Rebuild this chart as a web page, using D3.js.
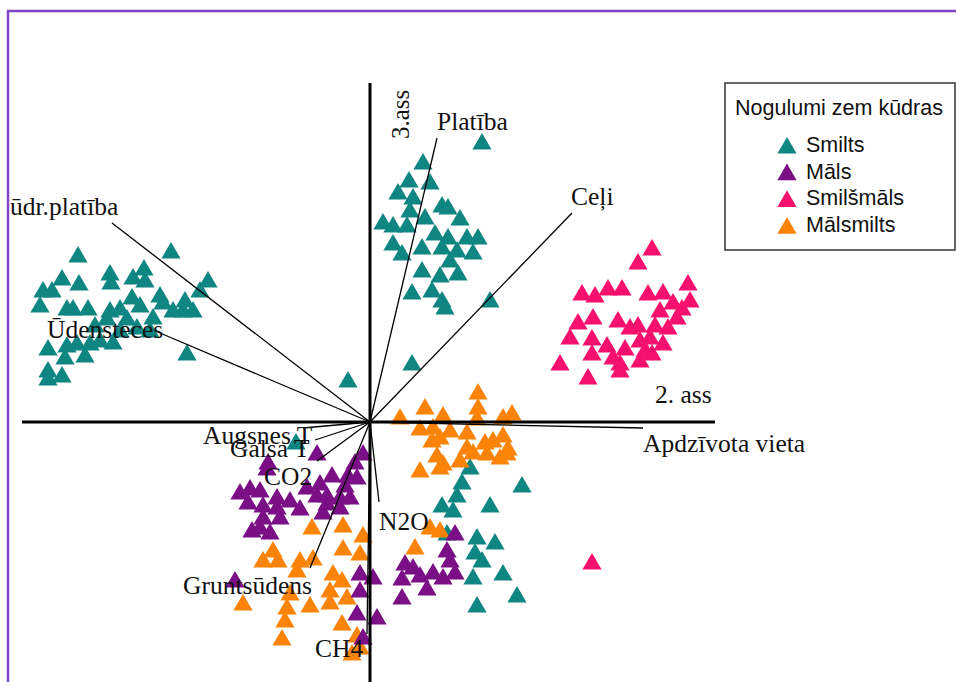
<!DOCTYPE html>
<html><head><meta charset="utf-8">
<script src="https://cdn.jsdelivr.net/npm/d3@7"></script>
<style>html,body{margin:0;padding:0;background:#fff;overflow:hidden}</style>
</head><body>
<script>
// ---- DATA ----
const categories = ["Smilts", "Māls", "Smilšmāls", "Mālsmilts"];
const legendTitle = "Nogulumi zem kūdras";

const smilts = [
  [-2.92,1.67],[-1.99,1.71],[-3.08,1.44],[-2.91,1.39],[-2.60,1.49],[-2.59,1.40],[-2.37,1.45],[-2.26,1.54],
  [-2.25,1.42],[-1.62,1.42],[-1.70,1.32],[-3.27,1.32],[-3.18,1.32],[-3.30,1.17],[-3.03,1.14],[-2.82,1.14],
  [-2.97,1.14],[-2.60,1.12],[-2.50,1.14],[-2.38,1.25],[-2.30,1.17],[-2.07,1.20],[-1.97,1.12],[-1.87,1.12],
  [-1.77,1.12],[-2.17,1.05],[-2.63,1.04],[-2.43,1.04],[-2.33,0.95],[-3.22,0.74],[-3.03,0.77],[-2.93,0.79],
  [-2.80,0.79],[-2.70,0.82],[-2.57,0.80],[-3.05,0.65],[-2.85,0.67],[-1.83,0.69],[-3.22,0.52],[-3.08,0.47],
  [-3.22,0.44],[-2.75,0.97],[-2.50,0.92],[-2.20,0.92],[-2.10,1.27],[-1.85,1.22],
  [-0.22,0.42],[-0.74,-0.20],
  [1.12,2.80],[0.53,2.60],[0.39,2.42],[0.60,2.40],[0.28,2.30],[0.43,2.25],[0.72,2.17],[0.78,2.15],
  [0.40,2.12],[0.55,2.05],[0.90,2.04],[0.13,2.00],[0.23,1.97],[0.37,1.97],[0.65,1.89],[0.78,1.85],
  [0.97,1.85],[1.08,1.85],[0.23,1.79],[0.52,1.75],[0.72,1.75],[0.87,1.72],[1.03,1.70],[0.32,1.69],
  [0.80,1.62],[0.52,1.52],[0.70,1.47],[0.88,1.49],[0.42,1.30],[0.62,1.32],[0.72,1.22],[0.75,1.15],
  [1.20,1.22],[0.42,0.59],
  [1.00,-0.45],[0.92,-0.60],[0.87,-0.73],[1.52,-0.63],[0.72,-0.83],[0.83,-0.88],[1.20,-0.83],[1.07,-1.15],
  [1.25,-1.20],[1.05,-1.30],[1.12,-1.38],[1.33,-1.51],[1.03,-1.55],[1.47,-1.73],[1.07,-1.83],[0.77,-1.11]
];

const mals = [
  [-0.53,-0.31],[-0.07,-0.31],[-1.02,-0.40],[-0.38,-0.53],[-0.22,-0.53],[-0.13,-0.55],[-1.30,-0.70],[-1.20,-0.66],
  [-1.10,-0.68],[-0.63,-0.65],[-0.50,-0.61],[-0.53,-0.73],[-0.43,-0.73],[-0.30,-0.75],[-0.20,-0.75],[-0.93,-0.75],
  [-0.80,-0.78],[-1.22,-0.80],[-1.07,-0.83],[-0.93,-0.85],[-0.70,-0.86],[-0.43,-0.81],[-0.30,-0.85],[-1.07,-0.95],
  [-0.90,-0.95],[-1.10,-1.05],[-1.18,-1.08],[-1.00,-1.10],[-0.47,-0.90],[-1.03,-0.46],[-1.35,-1.58],[-0.15,-0.40],
  [-0.25,-0.63],
  [0.85,-1.11],[0.77,-1.28],[0.80,-1.38],[0.35,-1.41],[0.43,-1.45],[0.63,-1.50],[0.73,-1.55],[0.32,-1.56],
  [0.57,-1.66],[0.32,-1.75],[0.03,-1.55],[-0.10,-1.51],[-0.10,-1.68],[-0.13,-1.91],[0.07,-1.95],[-0.07,-2.15],
  [0.50,-1.53],[0.85,-1.50]
];

const smilsmals = [
  [2.82,1.74],[2.68,1.60],[2.12,1.29],[2.25,1.27],[2.38,1.34],[2.52,1.34],[2.78,1.29],[2.93,1.30],
  [3.18,1.39],[3.03,1.20],[3.20,1.22],[3.12,1.14],[2.23,1.05],[2.08,1.00],[2.48,1.02],[2.60,0.95],
  [2.68,0.97],[2.98,0.95],[3.07,1.05],[2.00,0.85],[2.22,0.84],[2.37,0.77],[2.55,0.74],[2.70,0.82],
  [2.80,0.85],[2.93,0.79],[2.22,0.69],[2.43,0.65],[2.50,0.59],[2.70,0.62],[2.82,0.69],[1.90,0.59],
  [2.18,0.45],[2.50,0.52],[2.90,1.12],[2.85,0.97],[2.75,0.72],
  [2.22,-1.40]
];

const malsmilts = [
  [1.08,0.30],[1.08,0.15],[0.30,0.05],[0.55,0.15],[0.73,0.07],[1.42,0.09],[1.33,0.05],[0.50,-0.06],
  [0.63,-0.05],[0.80,-0.08],[0.97,-0.10],[1.07,0.04],[0.62,-0.18],[0.70,-0.15],[0.97,-0.25],[1.15,-0.20],
  [1.23,-0.18],[1.33,-0.13],[1.38,-0.26],[1.17,-0.31],[1.30,-0.35],[0.67,-0.33],[0.73,-0.41],[0.90,-0.38],
  [0.50,-0.48],[0.70,-0.45],[1.37,-0.31],[1.03,-0.30],[0.60,-1.05],[0.70,-1.08],[0.45,-1.25],
  [-0.58,-1.05],[-0.27,-1.03],[-0.07,-1.13],[-0.97,-1.28],[-0.27,-1.26],[-1.07,-1.38],[-0.92,-1.38],[-0.70,-1.38],
  [-0.57,-1.36],[-0.10,-1.31],[-0.73,-1.48],[-0.37,-1.51],[-0.28,-1.58],[-0.40,-1.68],[-0.80,-1.71],[-1.27,-1.81],
  [-0.83,-1.85],[-0.60,-1.83],[-0.40,-1.80],[-0.23,-1.75],[-0.85,-1.98],[-0.28,-2.01],[-0.88,-2.16],[-0.13,-2.13],
  [-0.18,-2.31],[-0.10,-2.25]
];

// environmental vectors (biplot arrows)
const vectorNames = ["ūdr.platība","Ūdensteces","Platība","Ceļi","Apdzīvota vieta","Augsnes T","Galsa T","CO2","Gruntsūdens","N2O","CH4"];
const vectorX = [-2.58,-2.10,0.67,2.02,2.73,-0.67,-0.55,-0.53,-0.60,0.09,-0.03];
const vectorY = [1.99,0.89,2.84,2.09,-0.06,-0.06,-0.18,-0.39,-1.46,-0.80,-2.12];

const axisNames = ["2. ass","3.ass"];
const axisXExtent = [-3.48, 3.45];
const axisYExtent = [-2.62, 3.39];

// ---- LAYOUT ----
const W = 956, H = 682;
const colors = ["#108683", "#7a0f86", "#f7116e", "#fb8307"];
const series = [smilts, mals, smilsmals, malsmilts];
const drawOrder = [0, 2, 3, 1];

const x = d3.scaleLinear().domain([-3.70, 5.86]).range([0, W]);
const y = d3.scaleLinear().domain([4.22, -2.60]).range([0, H]);

const svg = d3.select("body").append("svg").attr("width", W).attr("height", H)
  .style("display","block");

svg.append("rect").attr("width", W).attr("height", H).attr("fill", "#fff");

// frame
svg.append("path").attr("d", `M8,${H} L8,11 L${W},11`).attr("fill","none")
  .attr("stroke","#7f45c8").attr("stroke-width",2.5);

const tri = d3.symbol(d3.symbolTriangle, 160);

// points
drawOrder.forEach(i => {
  svg.append("g").selectAll("path").data(series[i]).join("path")
    .attr("d", tri)
    .attr("transform", d => `translate(${x(d[0])},${y(d[1]) + 2})`)
    .attr("fill", colors[i]);
});

// axes
svg.append("line").attr("x1", x(axisXExtent[0])).attr("x2", x(axisXExtent[1]))
  .attr("y1", y(0)).attr("y2", y(0)).attr("stroke","#000").attr("stroke-width",3);
svg.append("line").attr("x1", x(0)).attr("x2", x(0))
  .attr("y1", y(axisYExtent[0])).attr("y2", y(axisYExtent[1])).attr("stroke","#000").attr("stroke-width",3);

// vectors
const serif = "'Liberation Serif','Times New Roman',serif";
vectorNames.forEach((n, i) => {
  svg.append("line").attr("x1", x(0)).attr("y1", y(0))
    .attr("x2", x(vectorX[i])).attr("y2", y(vectorY[i]))
    .attr("stroke","#000").attr("stroke-width",1.3);
});

const labelOffsets = [[-102,-8],[-113,5],[0,-8],[-1,-8],[0,24],[-100,16],[-85,17],[-53,24],[-127,26],[0,28],[-52,23]];
vectorNames.forEach((n, i) => {
  svg.append("text").attr("x", x(vectorX[i]) + labelOffsets[i][0]).attr("y", y(vectorY[i]) + labelOffsets[i][1])
    .attr("font-family", serif).attr("font-size", 25.5).attr("fill","#111")
    .text(n);
});

// axis labels
svg.append("text").attr("x", 655).attr("y", 403).attr("font-family", serif).attr("font-size", 25.5)
  .attr("fill","#111").text(axisNames[0]);
svg.append("text").attr("transform", "translate(409,139) rotate(-90)")
  .attr("font-family", serif).attr("font-size", 25).attr("fill","#111").text(axisNames[1]);

// legend
const sans = "'Liberation Sans',Arial,sans-serif";
const lg = svg.append("g");
lg.append("rect").attr("x", 725).attr("y", 83).attr("width", 230).attr("height", 167)
  .attr("fill","#fff").attr("stroke","#333").attr("stroke-width",1.5);
lg.append("text").attr("x", 735).attr("y", 115).attr("font-family", sans).attr("font-size", 21.5)
  .attr("fill","#111").text(legendTitle);
categories.forEach((c, i) => {
  const yy = 152 + i * 26.7;
  lg.append("path").attr("d", tri).attr("transform", `translate(787,${yy - 4})`).attr("fill", colors[i]);
  lg.append("text").attr("x", 806).attr("y", yy).attr("font-family", sans).attr("font-size", 21.5)
    .attr("fill","#111").text(c);
});
</script>
</body></html>
